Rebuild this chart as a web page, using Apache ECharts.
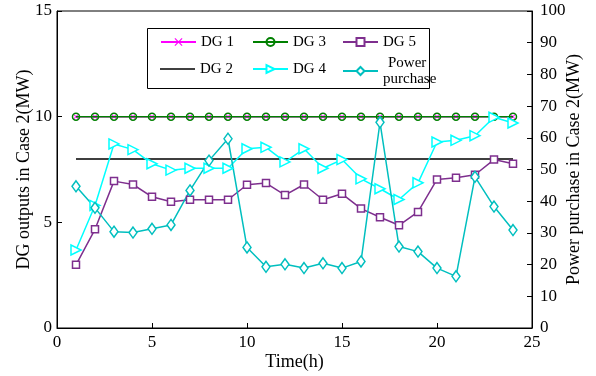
<!DOCTYPE html>
<html>
<head>
<meta charset="utf-8">
<script src="https://cdn.jsdelivr.net/npm/echarts@6/dist/echarts.min.js"></script>
<style>
  html, body { margin: 0; padding: 0; background: #fff; }
  #chart { width: 596px; height: 376px; }
</style>
</head>
<body>
<div id="chart"></div>
<script>
const hours = [1, 2, 3, 4, 5, 6, 7, 8, 9, 10, 11, 12, 13, 14, 15, 16, 17, 18, 19, 20, 21, 22, 23, 24]
const dg1 = [10, 10, 10, 10, 10, 10, 10, 10, 10, 10, 10, 10, 10, 10, 10, 10, 10, 10, 10, 10, 10, 10, 10, 10]
const dg2 = [8, 8, 8, 8, 8, 8, 8, 8, 8, 8, 8, 8, 8, 8, 8, 8, 8, 8, 8, 8, 8, 8, 8, 8]
const dg3 = [10, 10, 10, 10, 10, 10, 10, 10, 10, 10, 10, 10, 10, 10, 10, 10, 10, 10, 10, 10, 10, 10, 10, 10]
const dg4 = [3.69, 5.8, 8.71, 8.44, 7.77, 7.47, 7.56, 7.56, 7.56, 8.48, 8.55, 7.86, 8.48, 7.56, 7.97, 7.06, 6.59, 6.08, 6.87, 8.8, 8.88, 9.1, 9.97, 9.7]
const dg5 = [2.99, 4.67, 6.95, 6.79, 6.21, 5.97, 6.07, 6.07, 6.07, 6.78, 6.86, 6.29, 6.79, 6.07, 6.35, 5.65, 5.24, 4.86, 5.49, 7.03, 7.11, 7.25, 7.97, 7.77]
const purchase = [44.7, 37.9, 30.4, 30.1, 31.3, 32.5, 43.4, 52.8, 59.7, 25.4, 19.3, 20.1, 18.9, 20.4, 18.9, 21.0, 64.9, 25.7, 24.1, 18.9, 16.3, 47.7, 38.3, 30.9]

const font = 'Liberation Serif, Times New Roman, serif'
const pair = (arr) => hours.map((h, i) => [h, arr[i]])

const chart = echarts.init(document.getElementById('chart'))

const legendItem = (item, left, top) => ({
  data: [item],
  left: left,
  top: top,
  padding: 0,
  itemWidth: 35,
  itemHeight: 10,
  itemGap: 0,
  selectedMode: false,
  z: 100,
  formatter: function (n) {
    return n === 'Power purchase' ? '{c|Power}\npurchase' : n
  },
  textStyle: {
    fontFamily: font,
    fontSize: 15,
    color: '#000',
    lineHeight: 16,
    rich: {
      c: { fontFamily: font, fontSize: 15, lineHeight: 16, padding: [0, 0, 0, 5] },
    },
  },
})

const option = {
  animation: false,
  backgroundColor: '#fff',
  textStyle: { fontFamily: font },
  grid: {
    left: 57,
    right: 64,
    top: 11,
    bottom: 47,
    show: true,
    borderColor: '#000',
    borderWidth: 1,
  },
  graphic: [
    {
      type: 'rect',
      left: 147,
      top: 28,
      shape: { width: 282, height: 60 },
      style: { fill: '#fff', stroke: '#000', lineWidth: 1 },
      z: 90,
    },
  ],
  legend: [
    legendItem('DG 1', 160, 34),
    legendItem({ name: 'DG 2', icon: 'path://M0,0H35V1.5H0Z' }, 160, 61),
    legendItem('DG 3', 252, 34),
    legendItem('DG 4', 252, 61),
    legendItem('DG 5', 342, 34),
    legendItem('Power purchase', 342, 55),
  ],
  xAxis: {
    type: 'value',
    min: 0,
    max: 25,
    interval: 5,
    name: 'Time(h)',
    nameLocation: 'middle',
    nameGap: 25,
    nameMoveOverlap: false,
    nameTextStyle: { fontFamily: font, fontSize: 18, color: '#000' },
    axisLine: { lineStyle: { color: '#000', width: 1 } },
    axisTick: { inside: true, length: 5, lineStyle: { color: '#000' } },
    axisLabel: { fontFamily: font, fontSize: 17, color: '#000', margin: 6 },
    splitLine: { show: false },
  },
  yAxis: [
    {
      type: 'value',
      min: 0,
      max: 15,
      interval: 5,
      name: 'DG outputs in Case 2(MW)',
      nameLocation: 'middle',
      nameGap: 24,
      nameMoveOverlap: false,
      nameTextStyle: { fontFamily: font, fontSize: 18, color: '#000' },
      axisLine: { show: true, lineStyle: { color: '#000', width: 1 } },
      axisTick: { inside: true, length: 5, lineStyle: { color: '#000' } },
      axisLabel: { fontFamily: font, fontSize: 17, color: '#000', margin: 5 },
      splitLine: { show: false },
    },
    {
      type: 'value',
      min: 0,
      max: 100,
      interval: 10,
      position: 'right',
      name: 'Power purchase in Case 2(MW)',
      nameLocation: 'middle',
      nameGap: 33,
      nameRotate: 90,
      nameMoveOverlap: false,
      nameTextStyle: { fontFamily: font, fontSize: 18, color: '#000' },
      axisLine: { show: true, lineStyle: { color: '#000', width: 1 } },
      axisTick: { inside: true, length: 5, lineStyle: { color: '#000' } },
      axisLabel: { fontFamily: font, fontSize: 17, color: '#000', margin: 8 },
      splitLine: { show: false },
    },
  ],
  series: [
    {
      name: 'DG 1',
      type: 'line',
      data: pair(dg1),
      symbol: 'path://M0,1L1,0L5,4L9,0L10,1L6,5L10,9L9,10L5,6L1,10L0,9L4,5Z',
      symbolSize: 6,
      lineStyle: { color: '#FF00FF', width: 1.5 },
      itemStyle: { color: '#FF00FF' },
      z: 2,
    },
    {
      name: 'DG 2',
      type: 'line',
      data: pair(dg2),
      symbol: 'none',
      lineStyle: { color: '#000', width: 1.5 },
      itemStyle: { color: '#000' },
    },
    {
      name: 'DG 3',
      type: 'line',
      data: pair(dg3),
      symbol: 'circle',
      symbolSize: 7,
      lineStyle: { color: '#008000', width: 1.5 },
      itemStyle: { color: 'rgba(0,0,0,0)', borderColor: '#008000', borderWidth: 1.5 },
      z: 3,
    },
    {
      name: 'DG 4',
      type: 'line',
      data: pair(dg4),
      symbol: 'triangle',
      symbolRotate: -90,
      symbolSize: 10,
      lineStyle: { color: '#00FFFF', width: 1.5 },
      itemStyle: { color: '#fff', borderColor: '#00FFFF', borderWidth: 1.5 },
    },
    {
      name: 'DG 5',
      type: 'line',
      data: pair(dg5),
      symbol: 'rect',
      symbolSize: 7,
      lineStyle: { color: '#7E2F8E', width: 1.5 },
      itemStyle: { color: '#fff', borderColor: '#7E2F8E', borderWidth: 1.5 },
    },
    {
      name: 'Power purchase',
      type: 'line',
      yAxisIndex: 1,
      data: pair(purchase),
      symbol: 'diamond',
      symbolSize: [8, 11],
      lineStyle: { color: '#00BFBF', width: 1.5 },
      itemStyle: { color: '#fff', borderColor: '#00BFBF', borderWidth: 1.5 },
    },
  ],
}

chart.setOption(option)
</script>
</body>
</html>
